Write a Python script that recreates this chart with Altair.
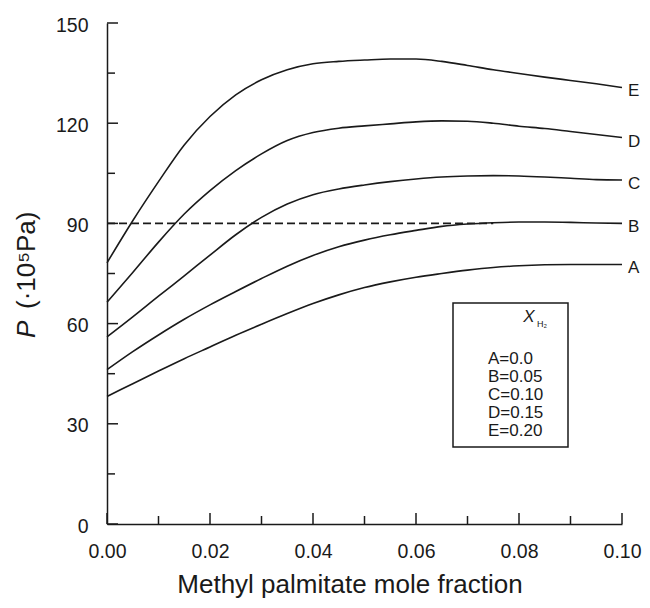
import altair as alt
import pandas as pd

# ---- data ----
x_vals = [0.000, 0.005, 0.010, 0.015, 0.020, 0.025, 0.030, 0.035, 0.040, 0.045, 0.050,
          0.055, 0.060, 0.065, 0.070, 0.075, 0.080, 0.085, 0.090, 0.095, 0.100]
A = [38.2, 42.0, 45.8, 49.5, 53.0, 56.5, 59.8, 63.0, 66.0, 68.6, 70.8,
     72.5, 73.9, 75.0, 76.0, 76.8, 77.3, 77.6, 77.7, 77.7, 77.7]
B = [46.2, 51.6, 56.6, 61.3, 65.6, 69.6, 73.5, 77.2, 80.4, 83.0, 85.0,
     86.6, 87.9, 89.1, 89.8, 90.2, 90.4, 90.4, 90.3, 90.1, 90.0]
C = [56.0, 62.0, 68.2, 74.3, 80.5, 86.6, 91.8, 95.8, 98.6, 100.3, 101.5,
     102.5, 103.3, 103.9, 104.2, 104.3, 104.2, 103.9, 103.5, 103.1, 103.0]
D = [66.4, 75.3, 84.4, 92.8, 99.8, 105.8, 110.8, 114.8, 117.2, 118.5, 119.2,
     119.8, 120.4, 120.7, 120.6, 120.0, 119.1, 118.4, 117.5, 116.6, 115.7]
E = [78.2, 90.8, 102.5, 113.5, 122.0, 128.5, 133.0, 136.0, 137.8, 138.5, 138.9,
     139.2, 139.2, 138.5, 137.3, 136.0, 134.9, 133.8, 132.8, 131.8, 130.7]
series_names = ["A", "B", "C", "D", "E"]
legend_rows = ["A=0.0", "B=0.05", "C=0.10", "D=0.15", "E=0.20"]
x_major = [0.0, 0.02, 0.04, 0.06, 0.08, 0.10]
x_minor = [0.01, 0.03, 0.05, 0.07, 0.09]
y_major = [0, 30, 60, 90, 120, 150]
y_minor = [15, 45, 75, 105, 135]
ref_x = [0.0, 0.075]
ref_y = [90, 90]

# ---- build tables ----
rows = []
for name, vals in zip(series_names, [A, B, C, D, E]):
    for xv, pv in zip(x_vals, vals):
        rows.append({"series": name, "x": xv, "p": pv})
curves = pd.DataFrame(rows)
ends = curves[curves["x"] == x_vals[-1]]
ref = pd.DataFrame({"x": ref_x, "p": ref_y})
one = pd.DataFrame({"k": [0]})

W, H = 515, 501
FONT = "Liberation Sans"
INK = "#1a1a1a"

xscale = alt.Scale(domain=[0, 0.1], nice=False, zero=False)
yscale = alt.Scale(domain=[0, 150], nice=False)

xaxis = alt.Axis(values=x_major, format=".2f", ticks=False, grid=False, labelFlush=False,
                 domainColor=INK, domainWidth=1.5, labelFontSize=19.5, labelColor=INK,
                 labelPadding=18, labelFont=FONT,
                 title="Methyl palmitate mole fraction", titleFont=FONT, titleFontSize=26,
                 titleFontWeight="normal", titleColor=INK, titleX=242.5, titleY=68,
                 titleAlign="center", titleBaseline="alphabetic")
yaxis = alt.Axis(values=y_major, ticks=False, grid=False, labelFlush=False,
                 domainColor=INK, domainWidth=1.5,
                 labelFontSize=19.5, labelColor=INK, labelPadding=19, labelOffset=2,
                 labelFont=FONT, title=None)


def X(field):
    return alt.X(field, scale=xscale, axis=xaxis)


def Y(field):
    return alt.Y(field, scale=yscale, axis=yaxis)


lines = alt.Chart(curves).mark_line(color=INK, strokeWidth=1.6, interpolate="monotone").encode(
    x=X("x:Q"), y=Y("p:Q"), detail="series:N",
)

dashed = alt.Chart(ref).mark_line(color=INK, strokeWidth=1.8, strokeDash=[8, 4]).encode(
    x=X("x:Q"), y=Y("p:Q")
)

end_labels = alt.Chart(ends).mark_text(align="left", baseline="middle", dx=6, dy=4,
                                       fontSize=17, font=FONT, color=INK).encode(
    x=X("x:Q"), y=Y("p:Q"), text="series:N"
)

xt_major = alt.Chart(pd.DataFrame({"x": x_major})).mark_rule(color=INK, strokeWidth=1.5).encode(
    x=X("x:Q"), y=alt.value(H), y2=alt.value(H - 11))
xt_minor = alt.Chart(pd.DataFrame({"x": x_minor})).mark_rule(color=INK, strokeWidth=1.5).encode(
    x=X("x:Q"), y=alt.value(H), y2=alt.value(H - 8))
yt_major = alt.Chart(pd.DataFrame({"p": y_major})).mark_rule(color=INK, strokeWidth=1.5).encode(
    y=Y("p:Q"), x=alt.value(0), x2=alt.value(11))
yt_minor = alt.Chart(pd.DataFrame({"p": y_minor})).mark_rule(color=INK, strokeWidth=1.5).encode(
    y=Y("p:Q"), x=alt.value(0), x2=alt.value(8))

# y-axis title: italic P + unit
ytitle_p = alt.Chart(one).mark_text(angle=270, align="left", baseline="alphabetic", fontSize=26,
                                    fontStyle="italic", font=FONT, color=INK).encode(
    x=alt.value(-72), y=alt.value(315), text=alt.value("P"))
ytitle_u = alt.Chart(one).mark_text(angle=270, align="left", baseline="alphabetic", fontSize=26,
                                    font=FONT, color=INK).encode(
    x=alt.value(-72), y=alt.value(286), text=alt.value("(·10⁵Pa)"))

# legend box
box = alt.Chart(one).mark_rect(fillOpacity=0, stroke=INK, strokeWidth=1.5).encode(
    x=alt.value(346), x2=alt.value(461), y=alt.value(280), y2=alt.value(424))
leg_x = alt.Chart(one).mark_text(align="center", baseline="alphabetic", fontSize=17,
                                 fontStyle="italic", font=FONT, color=INK).encode(
    x=alt.value(422), y=alt.value(299), text=alt.value("X"))
leg_sub = alt.Chart(one).mark_text(align="left", baseline="alphabetic", fontSize=9,
                                   font=FONT, color=INK).encode(
    x=alt.value(430), y=alt.value(304), text=alt.value("H₂"))
leg_rows = alt.Chart(pd.DataFrame({"t": ["\n".join(legend_rows)]})).mark_text(
    align="left", baseline="top", lineBreak="\n", lineHeight=18, fontSize=17,
    font=FONT, color=INK).encode(x=alt.value(381), y=alt.value(328), text="t:N")

chart = alt.layer(
    lines, dashed, end_labels, xt_major, xt_minor, yt_major, yt_minor,
    ytitle_p, ytitle_u, box, leg_x, leg_sub, leg_rows
).properties(
    width=W, height=H,
    background="white",
    autosize=alt.AutoSizeParams(type="none"),
    padding={"left": 99, "top": 15, "right": 20, "bottom": 76},
).configure_view(stroke=None)

chart.save("out.html", embed_options={"renderer": "svg", "actions": False})
